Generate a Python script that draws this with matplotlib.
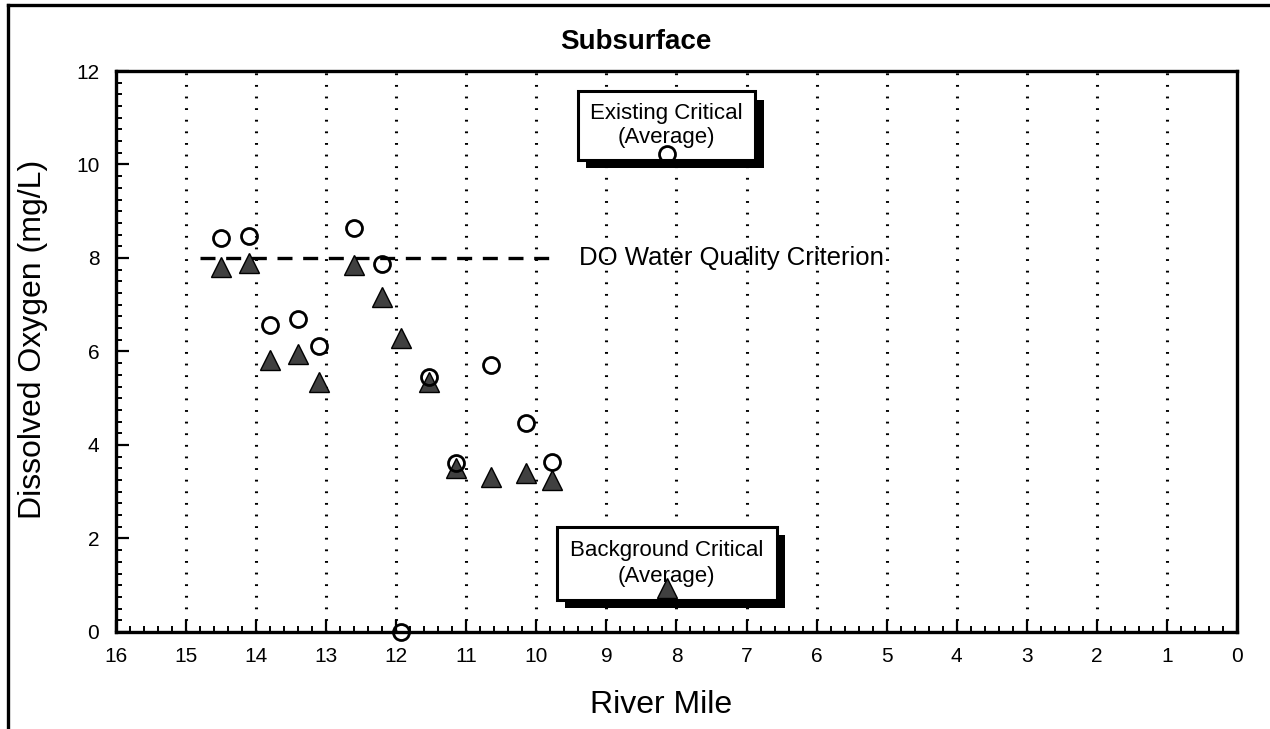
import matplotlib
matplotlib.use("Agg")
import matplotlib.pyplot as plt
import matplotlib.patheffects as pe
from matplotlib.lines import Line2D
from matplotlib.ticker import MultipleLocator

plt.rcParams['font.family'] = ['Liberation Sans', 'DejaVu Sans']

# River mile stations and dissolved oxygen readings (mg/L)
river_mile = [14.5, 14.1, 13.8, 13.4, 13.1, 12.6, 12.2, 11.93, 11.53, 11.14, 10.64, 10.15, 9.77]
existing = [8.42, 8.46, 6.57, 6.70, 6.12, 8.64, 7.87, 0.0, 5.46, 3.61, 5.71, 4.46, 3.63]
background = [7.80, 7.90, 5.82, 5.95, 5.35, 7.85, 7.17, 6.28, 5.35, 3.50, 3.32, 3.39, 3.25]

# critical (average) values
crit_mile = 8.14
existing_crit = 10.22
background_crit = 0.94

# DO water quality criterion
criterion = 8.0
criterion_span = [14.8, 9.7]

grid_miles = list(range(1, 16))

fig = plt.figure(figsize=(12.7, 7.29), dpi=100)
ax = fig.add_axes([0.0913, 0.1331, 0.8827, 0.7695])

# vertical dotted grid at whole miles
for m in grid_miles:
    ax.axvline(m, color='black', lw=2.2, ls=(0, (0.6, 3.2)), zorder=1)

# criterion line
ax.plot(criterion_span, [criterion, criterion], color='black', lw=2.4,
        ls=(0, (4.5, 3.2)), zorder=2)
ax.text(9.39, criterion, "DO Water Quality Criterion", fontsize=18.5,
        va='center', ha='left', zorder=3)

# data
ax.plot(river_mile, background, ls='none', marker='^', ms=14, mfc='#404040',
        mec='black', mew=1.0, zorder=5, clip_on=False)
ax.plot(river_mile, existing, ls='none', marker='o', ms=11.5, mfc='none',
        mec='black', mew=2.0, zorder=6, clip_on=False)

# critical average boxes
shadow = [pe.withSimplePatchShadow(offset=(6, -6), shadow_rgbFace='black', alpha=1.0)]
t1 = ax.text(crit_mile, 10.83, "Existing Critical\n(Average)", fontsize=16,
             ha='center', va='center', linespacing=1.15, zorder=4,
             bbox=dict(boxstyle='square,pad=0.55', fc='white', ec='black', lw=2.2))
t1.get_bbox_patch().set_path_effects(shadow)
t2 = ax.text(crit_mile, 1.47, "Background Critical\n(Average)", fontsize=16,
             ha='center', va='center', linespacing=1.3, zorder=4,
             bbox=dict(boxstyle='square,pad=0.6', fc='white', ec='black', lw=2.2))
t2.get_bbox_patch().set_path_effects(shadow)

ax.plot([crit_mile], [existing_crit], ls='none', marker='o', ms=11.5, mfc='none',
        mec='black', mew=2.0, zorder=6)
ax.plot([crit_mile], [background_crit], ls='none', marker='^', ms=14, mfc='#404040',
        mec='black', mew=1.0, zorder=6)

ax.set_xlim(16, 0)
ax.set_ylim(0, 12)
ax.xaxis.set_major_locator(MultipleLocator(1))
ax.xaxis.set_minor_locator(MultipleLocator(0.2))
ax.yaxis.set_major_locator(MultipleLocator(2))
ax.yaxis.set_minor_locator(MultipleLocator(0.25))
ax.tick_params(which='major', direction='in', length=9, width=1.6, labelsize=15,
               top=False, right=False)
ax.tick_params(axis='x', which='major', pad=11)
ax.tick_params(axis='y', which='major', pad=12)
ax.tick_params(which='minor', direction='in', length=4.5, width=1.4,
               top=False, right=False)
for s in ax.spines.values():
    s.set_linewidth(2.4)

ax.set_title("Subsurface", fontsize=20, fontweight='bold', x=0.464, pad=16)
ax.set_xlabel("River Mile", fontsize=23)
ax.set_ylabel("Dissolved Oxygen (mg/L)", fontsize=23)
ax.xaxis.set_label_coords(0.486, -0.103)
ax.yaxis.set_label_coords(-0.0607, 0.522)

# page frame (top and left edges)
fig.add_artist(Line2D([8 / 1270, 1.0], [1 - 5 / 729, 1 - 5 / 729],
                      transform=fig.transFigure, color='black', lw=2.4))
fig.add_artist(Line2D([8 / 1270, 8 / 1270], [0.0, 1 - 5 / 729],
                      transform=fig.transFigure, color='black', lw=2.4))

fig.savefig("out.png", dpi=100)
